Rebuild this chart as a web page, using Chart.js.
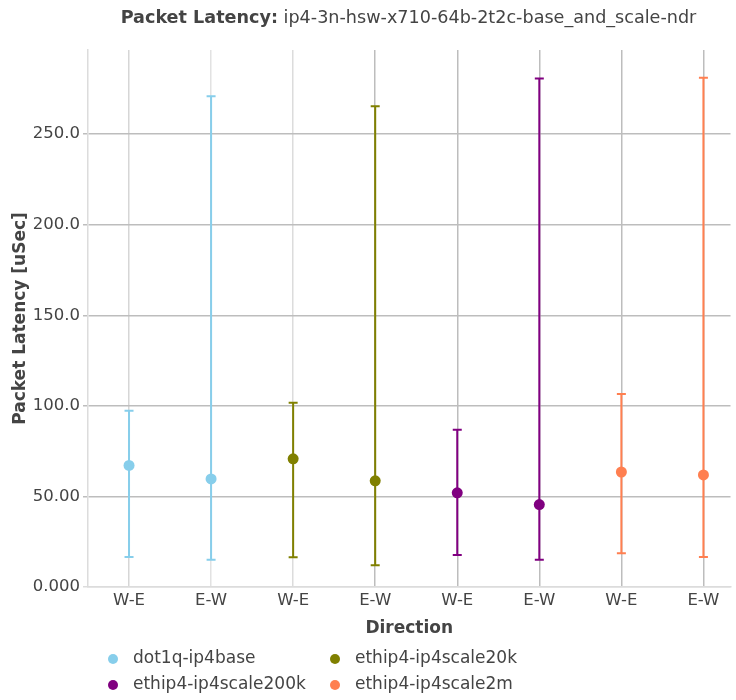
<!DOCTYPE html>
<html>
<head>
<meta charset="utf-8">
<script src="https://cdn.jsdelivr.net/npm/chart.js"></script>
<style>
  body { margin: 0; background: #fff; }
  #wrap { width: 736px; height: 700px; }
</style>
</head>
<body>
<div id="wrap"><canvas id="latencyChart"></canvas></div>
<script>
// categories on the x axis (2 per series)
const directions = ['W-E', 'E-W', 'W-E', 'E-W', 'W-E', 'E-W', 'W-E', 'E-W'];
const yTickValues = [0, 50, 100, 150, 200, 250];
const yTickLabels = ['0.000', '50.00', '100.0', '150.0', '200.0', '250.0'];

const seriesNames = ['dot1q-ip4base', 'ethip4-ip4scale20k', 'ethip4-ip4scale200k', 'ethip4-ip4scale2m'];
const seriesColors = ['#87ceeb', '#808000', '#800080', '#ff7f50'];

// avg / min / max latency, [W-E, E-W]
const dot1qAvg = [67.1, 59.7];
const dot1qMin = [16.6, 15.1];
const dot1qMax = [97.3, 271.0];

const scale20kAvg = [70.8, 58.6];
const scale20kMin = [16.4, 12.0];
const scale20kMax = [101.8, 265.5];

const scale200kAvg = [52.0, 45.5];
const scale200kMin = [17.6, 15.0];
const scale200kMax = [86.8, 280.8];

const scale2mAvg = [63.5, 61.9];
const scale2mMin = [18.7, 16.6];
const scale2mMax = [106.5, 281.2];

const avgs = [dot1qAvg, scale20kAvg, scale200kAvg, scale2mAvg];
const mins = [dot1qMin, scale20kMin, scale200kMin, scale2mMin];
const maxs = [dot1qMax, scale20kMax, scale200kMax, scale2mMax];

const FONT = "'DejaVu Sans', sans-serif";
const TEXT = '#444';

const datasets = seriesNames.map((name, s) => ({
  label: name,
  data: avgs[s].map((v, i) => ({ x: s * 2 + i, y: v })),
  errMin: mins[s],
  errMax: maxs[s],
  borderColor: seriesColors[s],
  backgroundColor: seriesColors[s],
  pointRadius: 5.5,
  pointBorderWidth: 0,
  showLine: false
}));

// whiskers drawn under the points
const errorBars = {
  id: 'errorBars',
  beforeDatasetsDraw(chart) {
    const { ctx, scales: { x, y } } = chart;
    chart.data.datasets.forEach(ds => {
      ctx.save();
      ctx.strokeStyle = ds.borderColor;
      ctx.lineWidth = 2;
      ds.data.forEach((p, i) => {
        const px = x.getPixelForValue(p.x);
        const top = y.getPixelForValue(ds.errMax[i]);
        const bot = y.getPixelForValue(ds.errMin[i]);
        ctx.beginPath();
        ctx.moveTo(px, top); ctx.lineTo(px, bot);
        ctx.moveTo(px - 4.5, top); ctx.lineTo(px + 4.5, top);
        ctx.moveTo(px - 4.5, bot); ctx.lineTo(px + 4.5, bot);
        ctx.stroke();
      });
      ctx.restore();
    });
  }
};

// title with bold prefix + legend in 2 columns
const extras = {
  id: 'extras',
  afterDraw(chart) {
    const ctx = chart.ctx;
    ctx.save();
    const bold = 'Packet Latency:';
    const rest = ' ip4-3n-hsw-x710-64b-2t2c-base_and_scale-ndr';
    ctx.font = 'bold 17.6px ' + FONT;
    const w1 = ctx.measureText(bold).width;
    ctx.font = '17.6px ' + FONT;
    const w2 = ctx.measureText(rest).width;
    let tx = 408.5 - (w1 + w2) / 2;
    ctx.fillStyle = TEXT;
    ctx.textBaseline = 'middle';
    ctx.font = 'bold 17.6px ' + FONT;
    ctx.fillText(bold, tx, 18);
    ctx.font = '17.6px ' + FONT;
    ctx.fillText(rest, tx + w1, 18);

    const cols = [113, 335];
    const rows = [659, 685];
    ctx.font = '17px ' + FONT;
    chart.data.datasets.forEach((ds, i) => {
      const cx = cols[i % 2], cy = rows[Math.floor(i / 2)];
      ctx.fillStyle = ds.backgroundColor;
      ctx.beginPath();
      ctx.arc(cx, cy, 5, 0, Math.PI * 2);
      ctx.fill();
      ctx.fillStyle = TEXT;
      ctx.fillText(ds.label, cx + 20, cy);
    });
    ctx.restore();
  }
};

const xGridColors = ['#d6d6d6', '#e2e2e2', '#dcdcdc', '#bdbdbd', '#bdbdbd', '#bdbdbd', '#bdbdbd', '#bdbdbd'];

new Chart(document.getElementById('latencyChart'), {
  type: 'scatter',
  data: { datasets },
  plugins: [errorBars, extras],
  options: {
    responsive: true,
    maintainAspectRatio: false,
    animation: false,
    layout: { padding: { top: 50, bottom: 59, left: 0, right: 0 } },
    plugins: { legend: { display: false }, tooltip: { enabled: false } },
    scales: {
      x: {
        type: 'linear',
        min: -0.5,
        max: 7.33,
        afterBuildTicks: s => { s.ticks = directions.map((d, i) => ({ value: i })); },
        afterFit: s => { s.height = 54; },
        ticks: {
          callback: v => directions[v],
          font: { family: FONT, size: 16.5 },
          color: TEXT,
          padding: 4,
          maxRotation: 0
        },
        grid: {
          color: c => xGridColors[c.index] || '#bdbdbd',
          lineWidth: 1.5,
          drawTicks: false
        },
        border: { color: '#dcdcdc', width: 1.5 },
        title: {
          display: true,
          text: 'Direction',
          font: { family: FONT, size: 17, weight: 'bold' },
          color: TEXT,
          padding: { top: 0, bottom: 2 }
        }
      },
      y: {
        min: 0,
        max: 296.5,
        afterBuildTicks: s => { s.ticks = yTickValues.map(v => ({ value: v })); },
        afterFit: s => { s.width = 88; },
        ticks: {
          callback: (v, i) => yTickLabels[i],
          font: { family: FONT, size: 16.5 },
          color: TEXT,
          padding: 3
        },
        grid: {
          color: c => (c.tick && c.tick.value === 0) ? '#dcdcdc' : '#bdbdbd',
          lineWidth: 1.5,
          tickLength: 5
        },
        border: { color: '#dcdcdc', width: 1.5 },
        title: {
          display: true,
          text: 'Packet Latency [uSec]',
          font: { family: FONT, size: 17, weight: 'bold' },
          color: TEXT,
          padding: { top: 10, bottom: 0 }
        }
      }
    }
  }
});
</script>
</body>
</html>
